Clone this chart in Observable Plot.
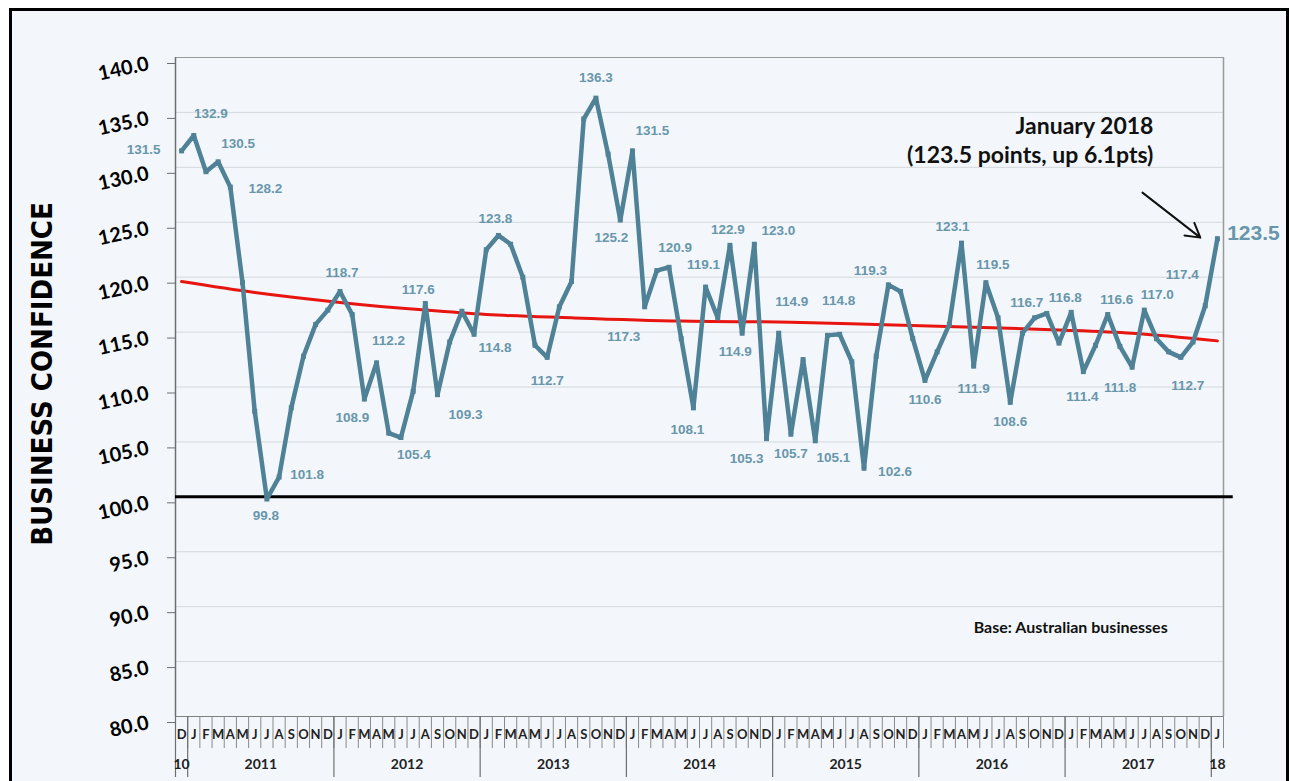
<!DOCTYPE html>
<html>
<head>
<meta charset="utf-8">
<script src="https://cdn.jsdelivr.net/npm/d3@7"></script>
<script src="https://cdn.jsdelivr.net/npm/@observablehq/plot@0.6"></script>
<style>
  html, body { margin: 0; padding: 0; background: #ffffff; overflow: hidden; width: 1289px; height: 781px; }
  #frame { position: absolute; left: 9px; top: 8px; width: 1280px; height: 800px; box-sizing: border-box;
           border: 3px solid #000; background: #f3f7fb; }
  #chart { position: absolute; left: 0; top: 0; }
</style>
</head>
<body>
<div id="frame"></div>
<div id="chart"></div>
<script>
// ---- data (monthly, Dec 2010 .. Jan 2018) ----
const monthLetters = ["J","F","M","A","M","J","J","A","S","O","N","D"];
const startYear = 2010, startMonth = 11; // December 2010
const confidence = [
  131.5,
  132.9, 129.6, 130.5, 128.2, 119.5, 107.8,  99.8, 101.8, 108.1, 112.8, 115.7, 117.0, // 2011
  118.7, 116.6, 108.9, 112.2, 105.8, 105.4, 109.6, 117.6, 109.3, 114.1, 116.9, 114.8, // 2012
  122.5, 123.8, 123.0, 120.0, 113.8, 112.7, 117.3, 119.6, 134.4, 136.3, 131.2, 125.2, // 2013
  131.5, 117.3, 120.6, 120.9, 114.4, 108.1, 119.1, 116.3, 122.9, 114.9, 123.0, 105.3, // 2014
  114.9, 105.7, 112.5, 105.1, 114.7, 114.8, 112.3, 102.6, 112.8, 119.3, 118.7, 114.4, // 2015
  110.6, 113.2, 115.7, 123.1, 111.9, 119.5, 116.3, 108.6, 114.9, 116.3, 116.7, 114.0, // 2016
  116.8, 111.4, 113.8, 116.6, 113.7, 111.8, 117.0, 114.4, 113.2, 112.7, 114.1, 117.4, // 2017
  123.5                                                                                // Jan 2018
];
// trend line (red) at these month positions
const trendMonths = [0, 6, 13, 20, 25, 32, 41, 50, 57, 65, 72, 78, 85];
const trendValues = [119.6, 118.6, 117.7, 117.0, 116.6, 116.3, 116.0, 115.9, 115.7, 115.45, 115.2, 114.9, 114.2];
const baseline = 100;
const yTicks = [80, 85, 90, 95, 100, 105, 110, 115, 120, 125, 130, 135, 140];
const yearLabels = ["10", "2011", "2012", "2013", "2014", "2015", "2016", "2017", "18"];
const labelledMonths = [0,1,3,4,7,8,13,15,16,18,20,21,24,26,30,34,36,37,38,40,42,43,45,46,47,48,49,50,52,54,56,58,61,64,65,66,68,71,73,74,76,78,79,82,84];
const yTitle = "BUSINESS CONFIDENCE";
const noteTitle = "January 2018\n(123.5 points, up 6.1pts)";
const noteBase = "Base: Australian businesses";

// ---- layout-only offsets for point labels (px) ----
const labelOffsets = {
  0:[-38,-1],1:[17,-22],3:[20,-18],4:[35,2],7:[-1,17],8:[28,-2],13:[2,-19],15:[-12,19],16:[12,-22],
  18:[13,17],20:[-7,-14],21:[28,20],24:[21,13],26:[-3,-17],30:[0,23],34:[0,-20],36:[-9,18],37:[20,-20],
  38:[-21,30],40:[6,-20],42:[-6,22],43:[-2,-22],45:[-2,-16],46:[-7,18],47:[24,-14],48:[-20,20],49:[13,-32],
  50:[0,19],52:[18,17],54:[-1,-34],56:[31,3],58:[-18,-14],61:[0,19],64:[-9,-16],65:[0,23],66:[7,-18],
  68:[0,19],71:[-20,-11],73:[-6,-15],74:[-1,25],76:[9,-15],78:[-12,20],79:[13,-15],82:[7,28],84:[-23,-31]
};

const n = confidence.length;
const data = confidence.map((v, i) => {
  const m = (startMonth + i) % 12;
  const y = startYear + Math.floor((startMonth + i) / 12);
  return {i, value: v, letter: monthLetters[m], month: m, year: y};
});
const trend = trendMonths.map((m, k) => ({i: m, value: trendValues[k]}));
const lastIdx = n - 1;

// year separators & label positions
const yearBounds = [-0.5, ...data.filter(d => d.month === 0).map(d => d.i - 0.5)];
const yearCenters = [0, ...d3.range(2011, 2018).map(y => {
  const ms = data.filter(d => d.year === y).map(d => d.i);
  return (d3.min(ms) + d3.max(ms)) / 2;
}), lastIdx];
const yearText = new Map(yearCenters.map((c, k) => [c, yearLabels[k]]));
const monthBounds = d3.range(0, n + 1).map(k => k - 0.5);

const lineColor = "#4f8197";
const labelColor = "#6896ab";
const calibri = "Lato, 'Open Sans', sans-serif";
const arial = "'Liberation Sans', Arial, sans-serif";

const labelMarks = labelledMonths.map(i => {
  const [dx, dy] = labelOffsets[i] || [0, -16];
  return Plot.text([data[i]], {
    x: "i", y: "value", text: d => d.value.toFixed(1), dx, dy,
    fill: labelColor, fontSize: 13.5, fontWeight: "bold", fontFamily: arial
  });
});

const chart = Plot.plot({
  width: 1289, height: 781,
  marginLeft: 175, marginRight: 66, marginTop: 57, marginBottom: 65,
  style: {background: "transparent", overflow: "visible"},
  x: {type: "linear", domain: [-0.5, n - 0.5], label: null},
  y: {domain: [80, 140], label: null},
  marks: [
    Plot.gridY({ticks: yTicks, stroke: "#d3d8dd", strokeOpacity: 1, strokeWidth: 1}),
    Plot.ruleY([140], {stroke: "#9a9a9a", strokeWidth: 1.2}),
    Plot.ruleY([80], {stroke: "#7f7f7f", strokeWidth: 1.2}),
    Plot.ruleX([n - 0.5], {y1: 80, y2: 140, stroke: "#9a9a9a", strokeWidth: 1.5}),
    Plot.ruleX([-0.5], {y1: 80, y2: 140, stroke: "#6f6f6f", strokeWidth: 1.5}),
    // y axis
    Plot.axisY({ticks: yTicks, tickFormat: d => d.toFixed(1), tickSize: 8, tickPadding: 19, label: null,
      tickRotate: -12, dy: 6, stroke: "#6f6f6f", fill: "#000", fontSize: 20, fontWeight: "bold", fontFamily: calibri}),
    // x axis: month separators, year separators, month letters, year labels
    Plot.axisX({ticks: monthBounds, tickSize: 32, tickFormat: () => "", label: null, stroke: "#8a8a8a", strokeWidth: 1}),
    Plot.axisX({ticks: yearBounds, tickSize: 61, tickFormat: () => "", label: null, stroke: "#6f6f6f", strokeWidth: 1.2}),
    Plot.axisX({ticks: d3.range(n), tickSize: 0, tickPadding: 13, tickFormat: i => data[i].letter, label: null,
      fill: "#222", fontSize: 13, fontWeight: "bold", fontFamily: calibri}),
    Plot.axisX({ticks: yearCenters, tickSize: 0, tickPadding: 43, tickFormat: c => yearText.get(c), label: null,
      fill: "#222", fontSize: 14, fontWeight: "bold", fontFamily: calibri}),
    // baseline
    Plot.ruleY([baseline], {x1: -0.5, x2: n + 0.3, stroke: "#000", strokeWidth: 3}),
    // trend
    Plot.line(trend, {x: "i", y: "value", stroke: "#e8140f", strokeWidth: 3, curve: "monotone-x"}),
    // series
    Plot.line(data, {x: "i", y: "value", stroke: lineColor, strokeWidth: 4.5, strokeLinejoin: "round"}),
    Plot.dot(data, {x: "i", y: "value", symbol: "square", r: 2.8, fill: lineColor}),
    ...labelMarks,
    Plot.text([data[lastIdx]], {x: "i", y: "value", text: d => d.value.toFixed(1), dx: 36, dy: -5,
      fill: labelColor, fontSize: 21, fontWeight: "bold", fontFamily: arial}),
    // annotation
    Plot.text([data[lastIdx]], {x: d => d.i - 5.25, y: d => d.value + 9.03, text: () => noteTitle,
      textAnchor: "end", lineAnchor: "middle", lineHeight: 1.25, fill: "#111", fontSize: 23,
      fontWeight: "bold", fontFamily: calibri}),
    Plot.arrow([data[lastIdx]], {x1: d => d.i - 6.15, y1: d => d.value + 4.2, x2: d => d.i - 1.4, y2: d => d.value + 0.1,
      stroke: "#111", strokeWidth: 2, headLength: 12}),
    Plot.text([data[lastIdx]], {x: d => d.i - 20, y: d => d.value - 35.4, text: () => noteBase,
      textAnchor: "start", fill: "#111", fontSize: 16, fontWeight: "bold", fontFamily: calibri}),
    // y title
    Plot.text([yTitle], {frameAnchor: "left", text: d => d, rotate: -90, dx: -133, dy: -13, textAnchor: "middle",
      fill: "#000", fontSize: 29, fontWeight: "bold", fontFamily: "'Liberation Sans Narrow', 'DejaVu Sans Condensed', sans-serif"})
  ]
});
document.getElementById("chart").appendChild(chart);
</script>
</body>
</html>
